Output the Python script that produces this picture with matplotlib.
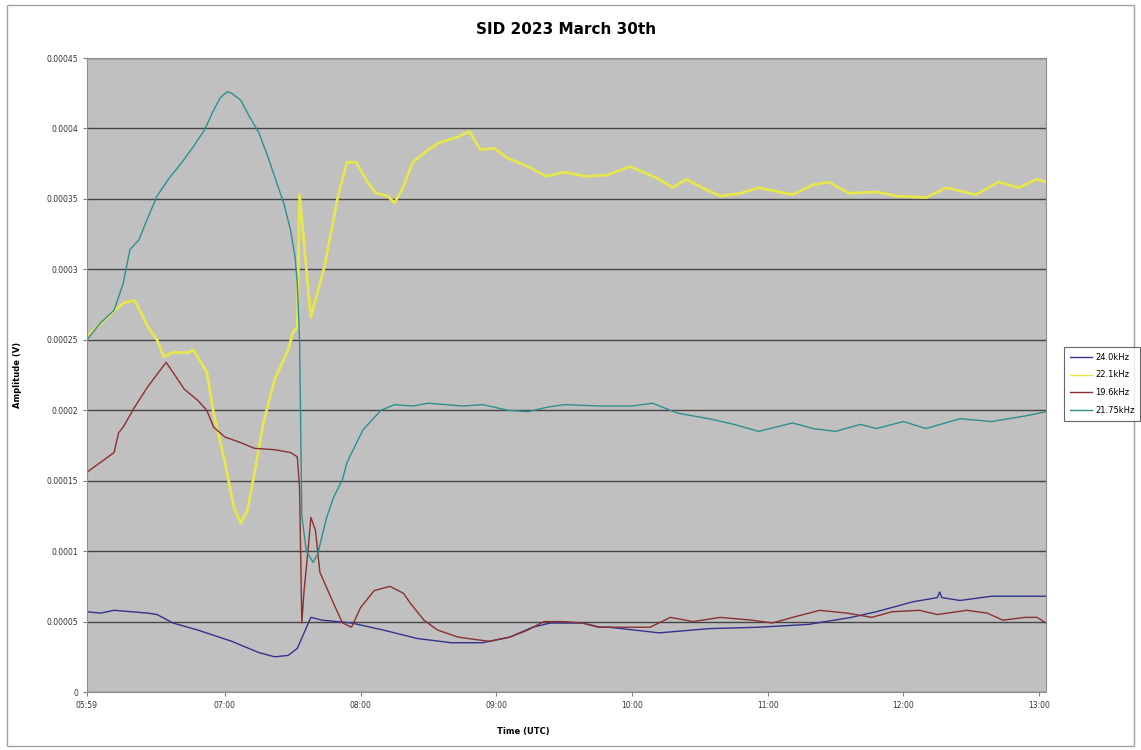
import matplotlib
matplotlib.use("Agg")
import matplotlib.pyplot as plt
from matplotlib.patches import Rectangle

# amplitudes, in microvolts
blue_t = ["05:59", "06:05", "06:11", "06:26", "06:30", "06:37", "06:48", "07:03", "07:15", "07:22",
          "07:28", "07:32", "07:35", "07:38", "07:43", "07:56", "08:10", "08:25", "08:40", "08:54",
          "09:06", "09:16", "09:24", "09:38", "09:46", "09:50", "10:12", "10:34", "10:56", "11:18",
          "11:37", "11:48", "11:55", "12:04", "12:15", "12:16", "12:17", "12:25", "12:39", "13:03"]
blue_v = [57, 56, 58, 56, 55, 49, 44, 36, 28, 25,
          26, 31, 42, 53, 51, 49, 44, 38, 35, 35,
          39, 46, 49, 49, 46, 46, 42, 45, 46, 48,
          53, 57, 60, 64, 67, 71, 67, 65, 68, 68]

yellow_t = ["05:59", "06:08", "06:15", "06:20", "06:23", "06:26", "06:30", "06:33", "06:37", "06:44",
            "06:46", "06:52", "06:55", "07:00", "07:04", "07:07", "07:10", "07:13", "07:17", "07:22",
            "07:28", "07:30", "07:32", "07:33", "07:38", "07:44", "07:50", "07:54", "07:58", "08:03",
            "08:07", "08:12", "08:15", "08:19", "08:23", "08:30", "08:35", "08:43", "08:48", "08:53",
            "08:59", "09:05", "09:14", "09:22", "09:30", "09:40", "09:49", "09:59", "10:05", "10:12",
            "10:18", "10:24", "10:31", "10:39", "10:48", "10:56", "11:11", "11:20", "11:27", "11:36",
            "11:48", "11:57", "12:10", "12:19", "12:32", "12:42", "12:51", "12:59", "13:03"]
yellow_v = [252, 266, 276, 278, 269, 259, 250, 238, 241, 241,
            243, 227, 198, 163, 131, 120, 129, 155, 191, 222,
            243, 255, 259, 353, 266, 302, 352, 376, 376, 362,
            354, 352, 347, 359, 376, 385, 390, 394, 398, 385,
            386, 379, 373, 366, 369, 366, 367, 373, 369, 364,
            358, 364, 358, 352, 354, 358, 353, 360, 362, 354,
            355, 352, 351, 358, 353, 362, 358, 364, 362]

red_t = ["05:59", "06:05", "06:11", "06:13", "06:15", "06:20", "06:26", "06:34", "06:37", "06:42",
         "06:48", "06:52", "06:55", "07:00", "07:07", "07:13", "07:22", "07:29", "07:32", "07:33",
         "07:34", "07:35", "07:37", "07:38", "07:40", "07:42", "07:48", "07:52", "07:56", "08:00",
         "08:06", "08:13", "08:19", "08:22", "08:28", "08:34", "08:43", "08:52", "08:57", "09:06",
         "09:14", "09:21", "09:30", "09:38", "09:45", "09:58", "10:08", "10:17", "10:27", "10:39",
         "10:53", "11:02", "11:11", "11:23", "11:35", "11:46", "11:55", "12:07", "12:15", "12:28",
         "12:37", "12:44", "12:54", "12:59", "13:03"]
red_v = [156, 163, 170, 184, 188, 202, 217, 234, 227, 215,
         207, 200, 188, 181, 177, 173, 172, 170, 167, 145,
         49, 72, 105, 124, 115, 85, 63, 49, 46, 60,
         72, 75, 70, 63, 51, 44, 39, 37, 36, 39,
         44, 50, 50, 49, 46, 46, 46, 53, 50, 53,
         51, 49, 53, 58, 56, 53, 57, 58, 55, 58,
         56, 51, 53, 53, 49]

teal_t = ["05:59", "06:05", "06:11", "06:15", "06:18", "06:22", "06:26", "06:30", "06:35", "06:41",
          "06:46", "06:51", "06:55", "06:58", "07:01", "07:03", "07:07", "07:11", "07:15", "07:19",
          "07:23", "07:26", "07:29", "07:31", "07:32", "07:33", "07:34", "07:36", "07:39", "07:41",
          "07:45", "07:48", "07:52", "07:54", "08:01", "08:09", "08:15", "08:23", "08:30", "08:45",
          "08:54", "09:05", "09:14", "09:22", "09:30", "09:46", "10:00", "10:09", "10:20", "10:34",
          "10:45", "10:56", "11:11", "11:20", "11:30", "11:41", "11:48", "12:00", "12:10", "12:25",
          "12:39", "12:54", "13:03"]
teal_v = [250, 262, 271, 290, 314, 321, 337, 352, 364, 376,
          387, 399, 413, 422, 426, 425, 420, 408, 397, 380,
          361, 347, 328, 309, 290, 250, 125, 100, 92, 98,
          124, 138, 151, 163, 186, 200, 204, 203, 205, 203,
          204, 200, 199, 202, 204, 203, 203, 205, 198, 194,
          190, 185, 191, 187, 185, 190, 187, 192, 187, 194,
          192, 196, 199]

labels = ["24.0kHz", "22.1kHz", "19.6kHz", "21.75kHz"]
tick_labels = ["05:59", "07:00", "08:00", "09:00", "10:00", "11:00", "12:00", "13:00"]


def hours(s):
    h, m = s.split(":")
    return int(h) + int(m) / 60


fig = plt.figure(figsize=(11.41, 7.5), dpi=100)
fig.patches.append(Rectangle((0.006, 0.005), 0.988, 0.988, transform=fig.transFigure,
                             fill=False, edgecolor="#a0a0a0", linewidth=1))
ax = fig.add_axes([0.0762, 0.0773, 0.8405, 0.8453])
ax.set_facecolor("#c0c0c0")

series = [(blue_t, blue_v, "#33338f", 1.0),
          (yellow_t, yellow_v, "#e6e64e", 2.0),
          (red_t, red_v, "#8b3030", 1.0),
          (teal_t, teal_v, "#2e8f8f", 1.0)]
for (t, v, c, lw), lab in zip(series, labels):
    ax.plot([hours(s) for s in t], [x * 1e-6 for x in v], color=c, lw=lw, label=lab)

ax.set_xlim(hours("05:59"), hours("13:03"))
ax.set_ylim(0, 0.00045)
yt = [i * 0.00005 for i in range(10)]
ax.set_yticks(yt)
ax.set_yticklabels(["0", "0.00005", "0.0001", "0.00015", "0.0002", "0.00025",
                    "0.0003", "0.00035", "0.0004", "0.00045"])
ax.set_xticks([hours(s) for s in tick_labels])
ax.set_xticklabels(tick_labels)
ax.tick_params(labelsize=5.5, length=3, color="#808080", labelcolor="#333333")
ax.grid(axis="y", color="#454545", lw=1.0)
ax.set_axisbelow(True)
for sp in ax.spines.values():
    sp.set_color("#909090")

ax.set_title("SID 2023 March 30th", fontsize=11, fontweight="bold", pad=17)
ax.set_xlabel("Time (UTC)", fontsize=6, fontweight="bold")
ax.xaxis.set_label_coords(0.455, -0.055)
ax.set_ylabel("Amplitude (V)", fontsize=6, fontweight="bold")
ax.yaxis.set_label_coords(-0.068, 0.5)

leg = fig.legend(loc="upper left", bbox_to_anchor=(0.929, 0.543), fontsize=6,
                 frameon=True, fancybox=False, handlelength=2.6, borderpad=0.7,
                 labelspacing=1.05, handletextpad=0.4)
leg.get_frame().set_edgecolor("#404040")
leg.get_frame().set_linewidth(0.8)
for line in leg.get_lines():
    line.set_linewidth(1.0)

fig.savefig("out.png", dpi=100)
